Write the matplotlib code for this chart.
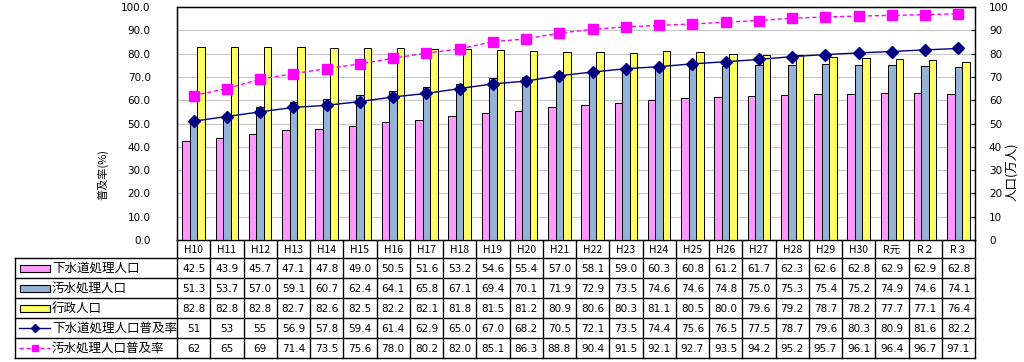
import matplotlib
matplotlib.use("Agg")
import matplotlib.pyplot as plt
import numpy as np
from matplotlib.patches import Rectangle
from matplotlib.lines import Line2D

plt.rcParams['font.family'] = ['Noto Sans CJK JP', 'DejaVu Sans']

categories = ["H10", "H11", "H12", "H13", "H14", "H15", "H16", "H17", "H18", "H19",
              "H20", "H21", "H22", "H23", "H24", "H25", "H26", "H27", "H28", "H29",
              "H30", "R元", "R２", "R３"]
sewer_pop = [42.5, 43.9, 45.7, 47.1, 47.8, 49.0, 50.5, 51.6, 53.2, 54.6,
             55.4, 57.0, 58.1, 59.0, 60.3, 60.8, 61.2, 61.7, 62.3, 62.6,
             62.8, 62.9, 62.9, 62.8]
waste_pop = [51.3, 53.7, 57.0, 59.1, 60.7, 62.4, 64.1, 65.8, 67.1, 69.4,
             70.1, 71.9, 72.9, 73.5, 74.6, 74.6, 74.8, 75.0, 75.3, 75.4,
             75.2, 74.9, 74.6, 74.1]
admin_pop = [82.8, 82.8, 82.8, 82.7, 82.6, 82.5, 82.2, 82.1, 81.8, 81.5,
             81.2, 80.9, 80.6, 80.3, 81.1, 80.5, 80.0, 79.6, 79.2, 78.7,
             78.2, 77.7, 77.1, 76.4]
sewer_rate = [51, 53, 55, 56.9, 57.8, 59.4, 61.4, 62.9, 65.0, 67.0,
              68.2, 70.5, 72.1, 73.5, 74.4, 75.6, 76.5, 77.5, 78.7, 79.6,
              80.3, 80.9, 81.6, 82.2]
waste_rate = [62, 65, 69, 71.4, 73.5, 75.6, 78.0, 80.2, 82.0, 85.1,
              86.3, 88.8, 90.4, 91.5, 92.1, 92.7, 93.5, 94.2, 95.2, 95.7,
              96.1, 96.4, 96.7, 97.1]
sewer_rate_txt = ["51", "53", "55"] + [f"{v:.1f}" for v in sewer_rate[3:]]
waste_rate_txt = ["62", "65", "69"] + [f"{v:.1f}" for v in waste_rate[3:]]

series_names = ["下水道処理人口", "汚水処理人口", "行政人口",
                "下水道処理人口普及率", "汚水処理人口普及率"]

C_PINK = "#FF99FF"
C_BLUE = "#95B3D7"
C_YEL = "#FFFF66"
C_NAVY = "#000080"
C_MAG = "#FF00FF"

W, H = 1024, 362
fig = plt.figure(figsize=(W / 100, H / 100), dpi=100)

L, R, T, B = 177, 975, 7, 240
ax = fig.add_axes([L / W, 1 - B / H, (R - L) / W, (B - T) / H])
ax2 = ax.twinx()

n = len(categories)
x = np.arange(n)
bw = 0.225
ax2.bar(x - bw, sewer_pop, bw, color=C_PINK, edgecolor="black", linewidth=0.7, zorder=2)
ax2.bar(x, waste_pop, bw, color=C_BLUE, edgecolor="black", linewidth=0.7, zorder=2)
ax2.bar(x + bw, admin_pop, bw, color=C_YEL, edgecolor="black", linewidth=0.7, zorder=2)
ax2.set_ylim(0, 100)
ax2.set_yticks(np.arange(0, 101, 10))
ax2.set_yticklabels([str(v) for v in range(0, 101, 10)], fontsize=7.5, family=['DejaVu Sans'])
ax2.tick_params(axis='y', direction='in', length=3, pad=10)

ax3 = ax.twinx()
ax3.set_ylim(0, 100)
ax3.axis('off')
ax3.plot(x, sewer_rate, color=C_NAVY, lw=1, marker='D', markersize=6, zorder=4)
ax3.plot(x, waste_rate, color=C_MAG, lw=1, ls=(0, (3, 2)), marker='s', markersize=6.5, zorder=4)

ax.set_xlim(-0.5, n - 0.5)
ax2.set_xlim(-0.5, n - 0.5)
ax3.set_xlim(-0.5, n - 0.5)
ax.set_ylim(0, 100)
ax.set_yticks(np.arange(0, 101, 10))
ax.set_yticklabels([f"{v:.1f}" for v in range(0, 101, 10)], fontsize=7.5, family=['DejaVu Sans'])
ax.tick_params(axis='y', length=0, pad=19)
ax.set_xticks([])
ax.grid(axis='y', color="#C8C8C8", lw=0.8)
ax.set_axisbelow(True)
for a in (ax, ax2):
    for s in a.spines.values():
        s.set_color("black")
        s.set_linewidth(0.9)

fig.text(103 / W, 1 - 175 / H, "普及率(%)", rotation=90, ha='center', va='center', fontsize=8)
fig.text(1012 / W, 1 - 172 / H, "人口(万人)", rotation=90, ha='center', va='center', fontsize=9)

# data table beneath the chart
tab = fig.add_axes([0, 0, 1, 1], zorder=-1)
tab.set_xlim(0, W)
tab.set_ylim(H, 0)
tab.axis('off')
colw = (R - L) / n
rows_y = [258, 278, 298, 318, 338, 358]
tlx = 15
kw = dict(color="black", lw=1)
for yy in rows_y:
    tab.plot([tlx, R], [yy, yy], **kw)
tab.plot([tlx, tlx], [258, 358], **kw)
for i in range(n + 1):
    xx = L + i * colw
    tab.plot([xx, xx], [B, 358], **kw)
for i, c in enumerate(categories):
    tab.text(L + (i + 0.5) * colw, (B + 258) / 2 + 1, c, ha='center', va='center', fontsize=7.5)

table_rows = [[f"{v:.1f}" for v in sewer_pop],
              [f"{v:.1f}" for v in waste_pop],
              [f"{v:.1f}" for v in admin_pop],
              sewer_rate_txt,
              waste_rate_txt]
for r, vals in enumerate(table_rows):
    yc = (rows_y[r] + rows_y[r + 1]) / 2 + 1
    for i, v in enumerate(vals):
        tab.text(L + (i + 0.5) * colw, yc, v, ha='center', va='center', fontsize=7.5,
                 family=['DejaVu Sans'])
    tab.text(52, yc - 1, series_names[r], ha='left', va='center', fontsize=9)

for r, fc in enumerate([C_PINK, C_BLUE, C_YEL]):
    yc = (rows_y[r] + rows_y[r + 1]) / 2
    tab.add_patch(Rectangle((20, yc - 3.5), 30, 7, facecolor=fc, edgecolor="black", lw=0.8))
yc = (rows_y[3] + rows_y[4]) / 2
tab.add_line(Line2D([19, 50], [yc, yc], color=C_NAVY, lw=1))
tab.plot([34.5], [yc], marker='D', color=C_NAVY, markersize=4.5)
yc = (rows_y[4] + rows_y[5]) / 2
tab.add_line(Line2D([19, 50], [yc, yc], color=C_MAG, lw=1, ls=(0, (3, 2))))
tab.plot([34.5], [yc], marker='s', color=C_MAG, markersize=5)

fig.savefig("out.png", dpi=100)
